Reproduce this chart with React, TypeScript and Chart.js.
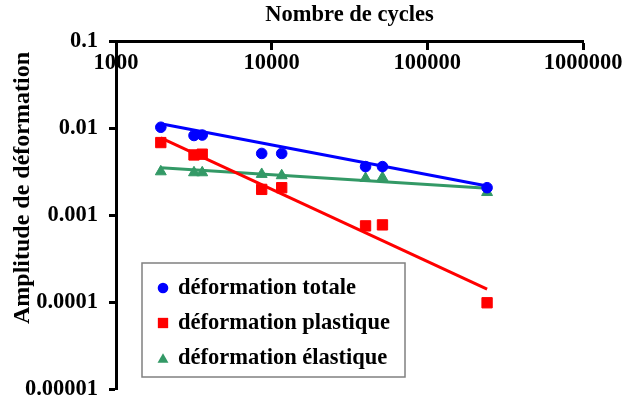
import { useEffect, useRef } from 'react';
import { Chart, registerables } from 'chart.js';

Chart.register(...registerables);

// ---- data ----
const cycles = [1940, 3170, 3580, 8630, 11600, 40100, 51500, 242000];
const totale = [0.0102, 0.0082, 0.0083, 0.0051, 0.0051, 0.0036, 0.0036, 0.00206];
const plastique = [0.0068, 0.0049, 0.005, 0.00197, 0.00206, 0.00075, 0.00077, 0.000098];
const elastique = [0.00315, 0.00307, 0.00307, 0.00294, 0.00284, 0.00264, 0.00269, 0.00182];

// trend lines (end points)
const trendX = [1940, 242000];
const trendTotale = [0.0112, 0.00216];
const trendPlastique = [0.0077, 0.000141];
const trendElastique = [0.0035, 0.00203];

const seriesLabels = ['déformation totale', 'déformation plastique', 'déformation élastique'];
const xTicks = [1000, 10000, 100000, 1000000];
const xTickLabels = ['1000', '10000', '100000', '1000000'];
const yTicks = [0.00001, 0.0001, 0.001, 0.01, 0.1];
const yTickLabels = ['0.00001', '0.0001', '0.001', '0.01', '0.1'];
const xTitle = 'Nombre de cycles';
const yTitle = 'Amplitude de déformation';

const BLUE = '#0000ff';
const RED = '#ff0000';
const GREEN = '#339966';
const FONT = '"Liberation Serif", "Times New Roman", serif';
const FS = 22.5;

function drawMarker(ctx: CanvasRenderingContext2D, style: string, x: number, y: number, r: number, color: string) {
  ctx.fillStyle = color;
  ctx.beginPath();
  if (style === 'circle') {
    ctx.arc(x, y, r, 0, Math.PI * 2);
  } else if (style === 'rect') {
    const s = r * Math.SQRT1_2;
    ctx.rect(x - s, y - s, 2 * s, 2 * s);
  } else {
    let rad = 0;
    const step = (Math.PI * 2) / 3;
    ctx.moveTo(x + Math.sin(rad) * r, y - Math.cos(rad) * r);
    rad += step;
    ctx.lineTo(x + Math.sin(rad) * r, y - Math.cos(rad) * r);
    rad += step;
    ctx.lineTo(x + Math.sin(rad) * r, y - Math.cos(rad) * r);
    ctx.closePath();
  }
  ctx.fill();
}

// legend box inside the plot + vertical axis title
const boxLegend = {
  id: 'boxLegend',
  afterDraw(chart: any) {
    const ctx: CanvasRenderingContext2D = chart.ctx;
    const bx = 142, by = 263, bw = 263, bh = 114;
    ctx.save();
    ctx.fillStyle = '#ffffff';
    ctx.fillRect(bx, by, bw, bh);
    ctx.strokeStyle = '#808080';
    ctx.lineWidth = 1.5;
    ctx.strokeRect(bx, by, bw, bh);
    const items = chart.data.datasets.slice(0, 3);
    items.forEach((ds: any, i: number) => {
      const cy = by + 25 + i * 35;
      drawMarker(ctx, ds.pointStyle, 163, ds.pointStyle === 'triangle' ? cy + 1.5 : cy, ds.pointRadius, ds.backgroundColor);
      ctx.fillStyle = '#000000';
      ctx.font = `bold ${FS}px ${FONT}`;
      ctx.textBaseline = 'middle';
      ctx.textAlign = 'left';
      ctx.fillText(ds.label, 178, cy);
    });
    // y axis title
    ctx.translate(23, 188);
    ctx.rotate(-Math.PI / 2);
    ctx.font = `bold 24px ${FONT}`;
    ctx.textAlign = 'center';
    ctx.textBaseline = 'middle';
    ctx.fillStyle = '#000000';
    ctx.fillText(yTitle, 0, 0);
    ctx.restore();
  },
};

export default function App() {
  const ref = useRef<HTMLCanvasElement | null>(null);

  useEffect(() => {
    if (!ref.current) return;
    const pts = (ys: number[]) => cycles.map((x, i) => ({ x, y: ys[i] }));
    const trend = (ys: number[]) => trendX.map((x, i) => ({ x, y: ys[i] }));

    const chart = new Chart(ref.current, {
      type: 'scatter',
      data: {
        datasets: [
          { label: seriesLabels[0], data: pts(totale), pointStyle: 'circle', pointRadius: 5.3, backgroundColor: BLUE, borderColor: BLUE, borderWidth: 1 },
          { label: seriesLabels[1], data: pts(plastique), pointStyle: 'rect', pointRadius: 7.3, backgroundColor: RED, borderColor: RED, borderWidth: 1 },
          { label: seriesLabels[2], data: pts(elastique), pointStyle: 'triangle', pointRadius: 6.3, backgroundColor: GREEN, borderColor: GREEN, borderWidth: 1 },
          { type: 'line', label: 'trend totale', data: trend(trendTotale), borderColor: BLUE, borderWidth: 3, pointRadius: 0, fill: false },
          { type: 'line', label: 'trend plastique', data: trend(trendPlastique), borderColor: RED, borderWidth: 3, pointRadius: 0, fill: false },
          { type: 'line', label: 'trend elastique', data: trend(trendElastique), borderColor: GREEN, borderWidth: 3, pointRadius: 0, fill: false },
        ] as any,
      },
      options: {
        animation: false,
        responsive: false,
        maintainAspectRatio: false,
        layout: { padding: { left: 0, right: 59, top: 0, bottom: 13 } },
        plugins: {
          legend: { display: false },
          tooltip: { enabled: false },
          title: {
            display: true,
            text: xTitle,
            fullSize: false,
            color: '#000000',
            font: { family: FONT, size: FS, weight: 'bold', lineHeight: 1.2 },
            padding: { top: 2, bottom: 12 },
          },
        },
        scales: {
          x: {
            type: 'logarithmic',
            position: { y: 0.1 } as any,
            min: 1000,
            max: 1000000,
            afterBuildTicks: (scale: any) => {
              scale.ticks = xTicks.map((v) => ({ value: v }));
            },
            ticks: {
              autoSkip: false,
              maxRotation: 0,
              padding: 2,
              color: '#000000',
              font: { family: FONT, size: FS, weight: 'bold', lineHeight: 1.2 },
              callback: (_v: any, i: number) => xTickLabels[i],
            },
            grid: { drawOnChartArea: false, drawTicks: true, tickLength: 7, tickWidth: 3, tickColor: '#000000' },
            border: { display: true, color: '#000000', width: 3 },
          },
          y: {
            type: 'logarithmic',
            position: 'left',
            min: 0.00001,
            max: 0.1,
            afterBuildTicks: (scale: any) => {
              scale.ticks = yTicks.map((v) => ({ value: v }));
            },
            afterFit: (scale: any) => {
              scale.width = 116;
              scale.paddingTop = 0;
              scale.paddingBottom = 0;
            },
            ticks: {
              autoSkip: false,
              padding: 11,
              color: '#000000',
              font: { family: FONT, size: FS, weight: 'bold', lineHeight: 1.0 },
              callback: (_v: any, i: number) => yTickLabels[i],
            },
            grid: { drawOnChartArea: false, drawTicks: true, tickLength: 7, tickWidth: 3, tickColor: '#000000' },
            border: { display: true, color: '#000000', width: 3 },
            title: { display: false, text: yTitle },
          },
        },
      },
      plugins: [boxLegend],
    });
    return () => chart.destroy();
  }, []);

  return (
    <div style={{ position: 'absolute', left: 0, top: 0, width: 642, height: 402, background: '#ffffff' }}>
      <canvas ref={ref} width={642} height={402} style={{ display: 'block' }} />
    </div>
  );
}
